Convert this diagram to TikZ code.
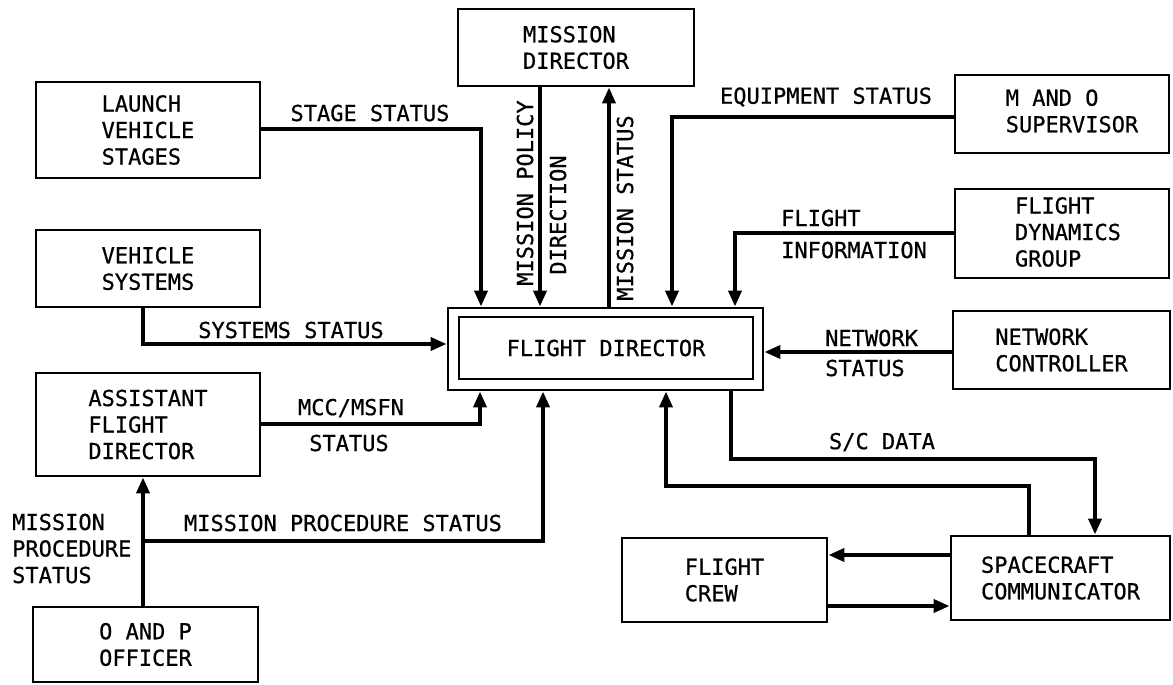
\documentclass[tikz,border=0pt]{standalone}
\usepackage{fontspec}
\setmainfont[FakeBold=0.6]{DejaVu Sans Mono}
\usetikzlibrary{arrows.meta}
\begin{document}
\begin{tikzpicture}[x=1pt,y=-1pt,
  every node/.style={font=\fontsize{22}{26.5}\selectfont, inner sep=0pt},
  box/.style={draw, line width=2.9pt, align=left},
  conn/.style={line width=3.8pt, -{Triangle[length=16pt,width=13pt]}},
  lbl/.style={align=left}]
\useasboundingbox (0,0) rectangle (1173,685);

% boxes
\node[box, minimum width=236pt, minimum height=77pt] (md) at (576,47.5) {MISSION\\DIRECTOR};
\node[box, minimum width=224pt, minimum height=96pt] (lvs) at (148,130) {LAUNCH\\VEHICLE\\STAGES};
\node[box, minimum width=224pt, minimum height=77pt] (vs) at (148,268.5) {VEHICLE\\SYSTEMS};
\node[box, minimum width=224pt, minimum height=103pt] (afd) at (148,424.5) {ASSISTANT\\FLIGHT\\DIRECTOR};
\node[box, minimum width=225pt, minimum height=75pt] (op) at (145.5,644.5) {O AND P\\OFFICER};
\node[box, minimum width=315pt, minimum height=82pt] (fd) at (605.5,349) {};
\node[box, minimum width=294pt, minimum height=62pt] (fdi) at (606,348) {FLIGHT DIRECTOR};
\node[box, minimum width=214pt, minimum height=78pt] (mo) at (1062,114) {};
\node[lbl] (mot) at (1072,111) {M AND O\\SUPERVISOR};
\node[box, minimum width=214pt, minimum height=89pt] (fdg) at (1062,233.5) {};
\node[lbl] (fdgt) at (1068,232) {FLIGHT\\DYNAMICS\\GROUP};
\node[box, minimum width=217pt, minimum height=78pt] (nc) at (1061.5,350) {NETWORK\\CONTROLLER};
\node[box, minimum width=205pt, minimum height=84pt] (crew) at (724.5,580) {FLIGHT\\CREW};
\node[box, minimum width=219pt, minimum height=84pt] (sc) at (1060.5,578) {SPACECRAFT\\COMMUNICATOR};

% bend coordinates
\coordinate (b1) at (481,129);
\coordinate (b2) at (143,344);
\coordinate (b3) at (480,424);
\coordinate (b4) at (143,541);
\coordinate (b5) at (543,541);
\coordinate (b6) at (540,200);
\coordinate (b7) at (609,200);
\coordinate (b8) at (672,117);
\coordinate (b9) at (735,233);
\coordinate (b10) at (850,352);
\coordinate (b11) at (731,459);
\coordinate (b12) at (1095,459);
\coordinate (b13) at (1029,486);
\coordinate (b14) at (666,486);
\coordinate (b15) at (890,555);
\coordinate (b16) at (890,606);

% connectors
\draw[conn] (lvs.east |- b1) -| (fd.north -| b1);
\draw[conn] (vs.south -| b2) |- (fd.west |- b2);
\draw[conn] (afd.east |- b3) -| (fd.south -| b3);
\draw[conn] (op.north -| b4) -- (afd.south -| b4);
\draw[conn] (b4) -| (fd.south -| b5);
\draw[conn] (md.south -| b6) -- (fd.north -| b6);
\draw[conn] (fd.north -| b7) -- (md.south -| b7);
\draw[conn] (mo.west |- b8) -| (fd.north -| b8);
\draw[conn] (fdg.west |- b9) -| (fd.north -| b9);
\draw[conn] (nc.west |- b10) -- (fd.east |- b10);
\draw[conn] (fd.south -| b11) |- (b12) -- (sc.north -| b12);
\draw[conn] (sc.north -| b13) |- (b14) -- (fd.south -| b14);
\draw[conn] (sc.west |- b15) -- (crew.east |- b15);
\draw[conn] (crew.east |- b16) -- (sc.west |- b16);

% labels
\node[lbl] (l1) at (370,113) {STAGE STATUS};
\node[lbl, rotate=90] (l2) at (525,193) {MISSION POLICY};
\node[lbl, rotate=90] (l3) at (558,215) {DIRECTION};
\node[lbl, rotate=90] (l4) at (625,208) {MISSION STATUS};
\node[lbl] (l5) at (826,97) {EQUIPMENT STATUS};
\node[lbl, anchor=west] (l6) at (781,218) {FLIGHT};
\node[lbl, anchor=west] (l7) at (781,250) {INFORMATION};
\node[lbl, anchor=west] (l8) at (825,338) {NETWORK};
\node[lbl, anchor=west] (l9) at (825,368) {STATUS};
\node[lbl] (l10) at (291,330) {SYSTEMS STATUS};
\node[lbl] (l11) at (351,408) {MCC/MSFN};
\node[lbl] (l12) at (349,443) {STATUS};
\node[lbl] (l13) at (343,523) {MISSION PROCEDURE STATUS};
\node[lbl, anchor=west] (l14) at (12,548.5) {MISSION\\PROCEDURE\\STATUS};
\node[lbl] (l15) at (882,442) {S/C DATA};
\end{tikzpicture}
\end{document}
